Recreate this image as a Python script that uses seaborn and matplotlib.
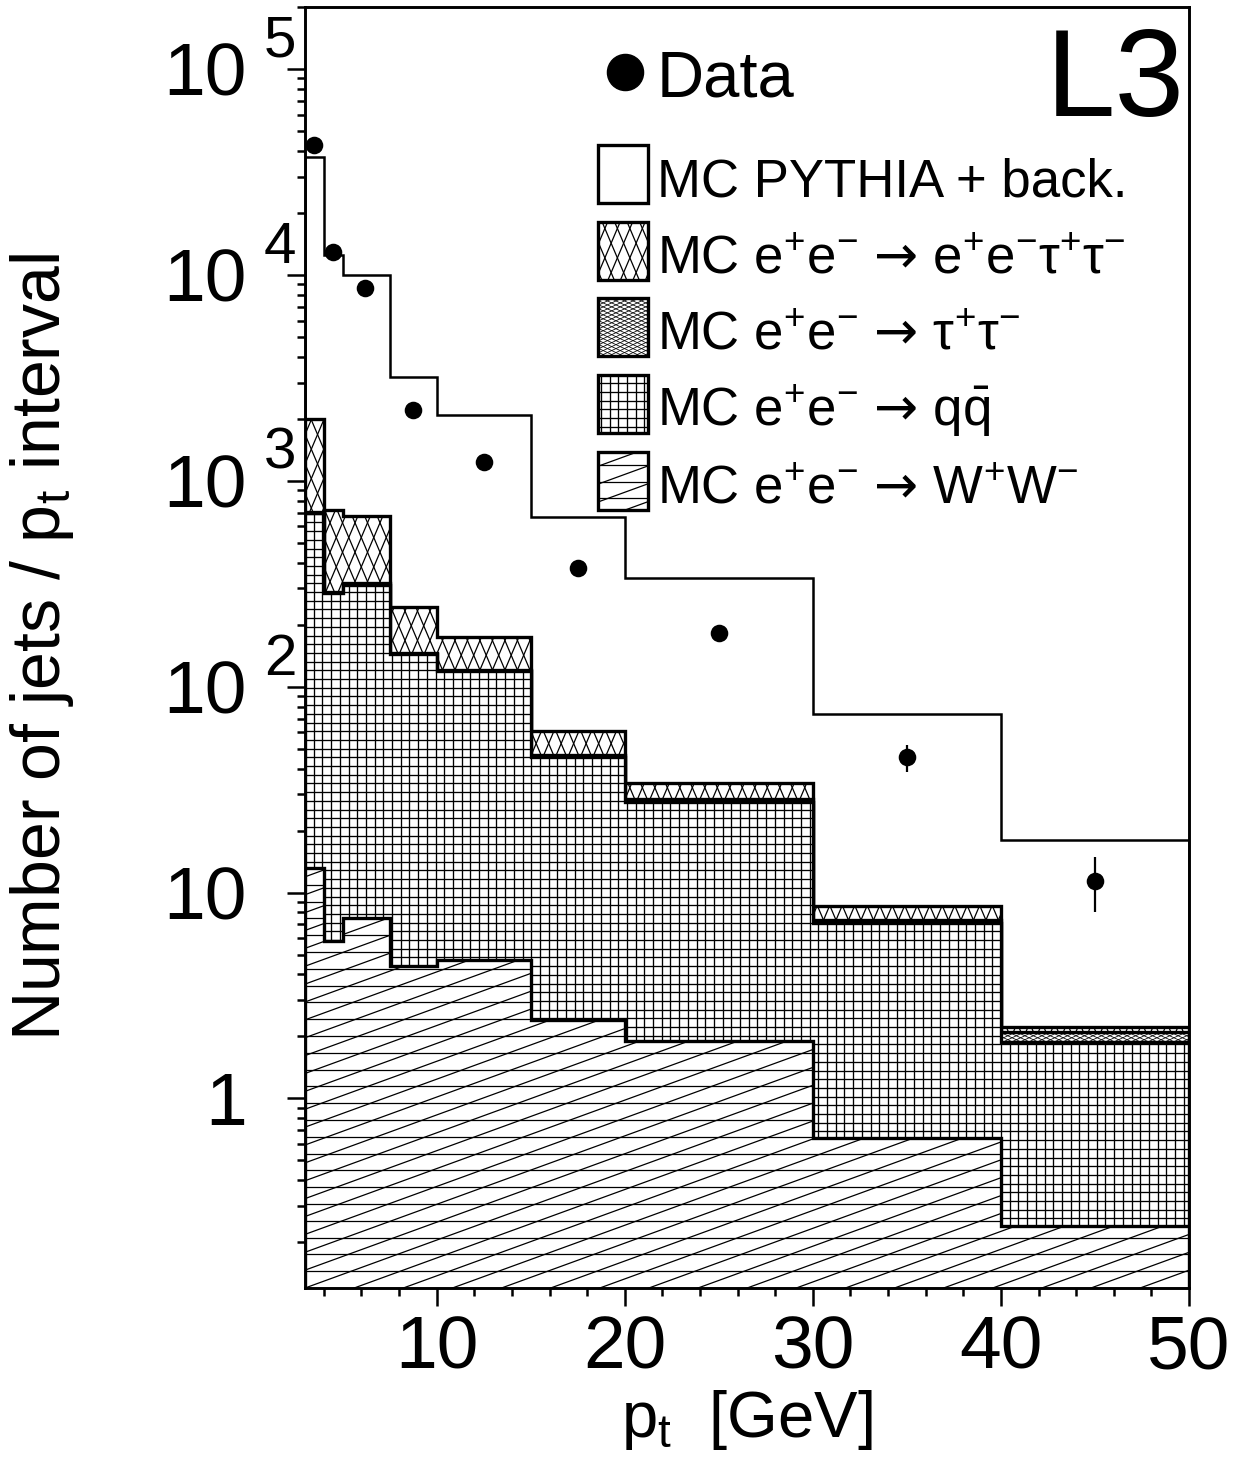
import numpy as np
import pandas as pd
import matplotlib
matplotlib.use("Agg")
import matplotlib.pyplot as plt
import seaborn as sns
from matplotlib.collections import LineCollection
from matplotlib.patches import Polygon
from matplotlib.transforms import Affine2D, ScaledTranslation

# bins in pt [GeV]
pt_edges = [3, 4, 5, 7.5, 10, 15, 20, 30, 40, 50]

# data points
pt_data = [3.5, 4.5, 6.2, 8.75, 12.5, 17.5, 25, 35, 45]
n_data = [42700, 12900, 8650, 2200, 1240, 378, 182, 45.4, 11.4]
n_data_err = [207, 114, 93, 47, 35, 19.4, 13.5, 6.8, 3.4]

# MC contributions per bin (not stacked)
mc_ww = [13.1, 5.8, 7.5, 4.4, 4.7, 2.4, 1.9, 0.64, 0.24]
mc_qq = [682, 278, 305, 139, 114, 43.1, 25.6, 6.44, 1.64]
mc_tautau = [9, 5, 5, 2, 2, 1.3, 0.9, 0.25, 0.22]
mc_eetautau = [1286, 436, 356, 99, 53, 13.9, 5.6, 1.24, 0.12]
mc_pythia = [35400, 11780, 9330, 2950, 1910, 604, 302, 65.4, 15.7]

arrow = r"$\mathsf{→}$"
legend_labels = [
    "MC PYTHIA + back.",
    r"MC e$^{+}$e$^{-}$ " + arrow + r" e$^{+}$e$^{-}$τ$^{+}$τ$^{-}$",
    r"MC e$^{+}$e$^{-}$ " + arrow + r" τ$^{+}$τ$^{-}$",
    r"MC e$^{+}$e$^{-}$ " + arrow + r" q$\bar{\mathrm{q}}$",
    r"MC e$^{+}$e$^{-}$ " + arrow + r" W$^{+}$W$^{-}$",
]

sns.set_style("ticks")
plt.rcParams["font.family"] = ["Liberation Sans", "DejaVu Sans"]
plt.rcParams["mathtext.fontset"] = "custom"
plt.rcParams["mathtext.rm"] = "Liberation Sans"
plt.rcParams["mathtext.it"] = "Liberation Sans:italic"
plt.rcParams["mathtext.bf"] = "Liberation Sans:bold"
plt.rcParams["mathtext.sf"] = "DejaVu Sans"
plt.rcParams["text.color"] = "black"
plt.rcParams["axes.labelcolor"] = "black"

fig = plt.figure(figsize=(12.36, 14.59), dpi=100)
pos = [0.2468, 0.1172, 0.7152, 0.878]
ax = fig.add_axes(pos)
W = pos[2] * 1236
H = pos[3] * 1459
px = Affine2D().scale(1 / W, 1 / H) + ax.transAxes
ax.set_yscale("log")
ax.set_xlim(3, 50)
ax.set_ylim(0.12, 2.0e5)


def hatch(clip, angles, spacing, lw, z):
    # hatch lines in axes pixel space, clipped to a patch
    segs = []
    L = W + H
    for a in angles:
        t = np.radians(a)
        d = np.array([np.cos(t), np.sin(t)])
        n = np.array([-np.sin(t), np.cos(t)])
        c = [n @ np.array(p) for p in [(0, 0), (W, 0), (0, H), (W, H)]]
        for k in range(int(np.floor(min(c) / spacing)) - 1, int(np.ceil(max(c) / spacing)) + 2):
            p0 = k * spacing * n
            segs.append([p0 - L * d, p0 + L * d])
    lc = LineCollection(segs, colors="black", linewidths=lw, transform=px, zorder=z)
    ax.add_collection(lc, autolim=False)
    lc.set_clip_path(clip)
    lc.set_clip_box(ax.bbox)


patterns = [
    None,
    ([67, 113], 11.5, 0.9),
    ([25, 155], 3.6, 0.55),
    ([0, 90], 8.7, 0.95),
    ([0, 20], 16.8, 0.9),
]

cum_ww = np.array(mc_ww)
cum_qq = cum_ww + np.array(mc_qq)
cum_tt = cum_qq + np.array(mc_tautau)
cum_eett = cum_tt + np.array(mc_eetautau)
cum_tot = cum_eett + np.array(mc_pythia)
stack = [cum_tot, cum_eett, cum_tt, cum_qq, cum_ww]
edge_lw = [1.8, 2.4, 2.4, 2.4, 2.4]

for i, vals in enumerate(stack):
    st = ax.stairs(vals, pt_edges, baseline=1e-3, fill=True, facecolor="white",
                   edgecolor="black", linewidth=edge_lw[i], zorder=2 + i)
    if patterns[i] is not None:
        hatch(st, patterns[i][0], patterns[i][1], patterns[i][2], 2.5 + i)

df = pd.DataFrame({"pt": pt_data, "n": n_data, "err": n_data_err})
ax.errorbar(df["pt"], df["n"], yerr=df["err"], fmt="none", ecolor="black",
            elinewidth=1.6, capsize=0, zorder=9)
sns.scatterplot(data=df, x="pt", y="n", color="black", s=160, linewidth=0,
                ax=ax, zorder=10, legend=False)

# axes styling
for s in ax.spines.values():
    s.set_linewidth(2.1)
    s.set_color("black")
    s.set_zorder(20)
ax.set_xticks([10, 20, 30, 40, 50])
ax.set_xticks(np.arange(4, 50, 2), minor=True)
ax.set_yticks([1, 10, 100, 1e3, 1e4, 1e5], labels=["1", "10", "10", "10", "10", "10"])
ax.yaxis.set_minor_locator(matplotlib.ticker.LogLocator(base=10, subs=np.arange(2, 10), numticks=50))
ax.yaxis.set_minor_formatter(matplotlib.ticker.NullFormatter())
ax.tick_params(which="major", length=13, width=1.8, direction="out", labelsize=54,
               color="black", labelcolor="black")
ax.tick_params(which="minor", length=6, width=1.8, direction="out", color="black")
ax.tick_params(axis="y", which="major", pad=29)
ax.tick_params(axis="x", which="major", pad=6)
ax.tick_params(top=False, right=False, which="both")

exp_tr = ax.get_yaxis_transform() + ScaledTranslation(0, 0.12, fig.dpi_scale_trans)
for v, e in zip([100, 1e3, 1e4, 1e5], ["2", "3", "4", "5"]):
    ax.text(-0.0464, v, e, transform=exp_tr, fontsize=42, ha="left", va="baseline")

ax.set_xlabel(r"p$_{\mathrm{t}}$  [GeV]", fontsize=47)
ax.xaxis.set_label_coords(0.5, -0.078)
ax.set_ylabel(r"Number of jets / p$_{\mathrm{t}}$ interval", fontsize=49)
ax.yaxis.set_label_coords(-0.259, 0.5)

# L3 label
ax.text(0.9955, 0.9855, "L3", transform=ax.transAxes, fontsize=90, ha="right", va="top")

# legend
ax.plot([0.362], [0.9493], "o", color="black", markersize=26, transform=ax.transAxes,
        clip_on=False, zorder=21)
ax.text(0.398, 0.9305, "Data", transform=ax.transAxes, fontsize=47, ha="left", va="baseline")
box_tops = [145, 222, 298, 375, 452]
bx, bw = 0.3314, 0.0566
for i, (top, lab) in enumerate(zip(box_tops, legend_labels)):
    y0 = (1288 - (top + 58)) / H
    y1 = y0 + 58 / H
    r = Polygon([(bx, y0), (bx + bw, y0), (bx + bw, y1), (bx, y1)], closed=True,
                transform=ax.transAxes, facecolor="white", edgecolor="black",
                linewidth=2.4, zorder=15)
    ax.add_patch(r)
    if patterns[i] is not None:
        hatch(r, patterns[i][0], patterns[i][1], patterns[i][2], 15.5)
    ax.text(0.398, y0 + 7 / H, lab, transform=ax.transAxes, fontsize=38, ha="left",
            va="baseline", zorder=16)

fig.savefig("out.png", dpi=100)
